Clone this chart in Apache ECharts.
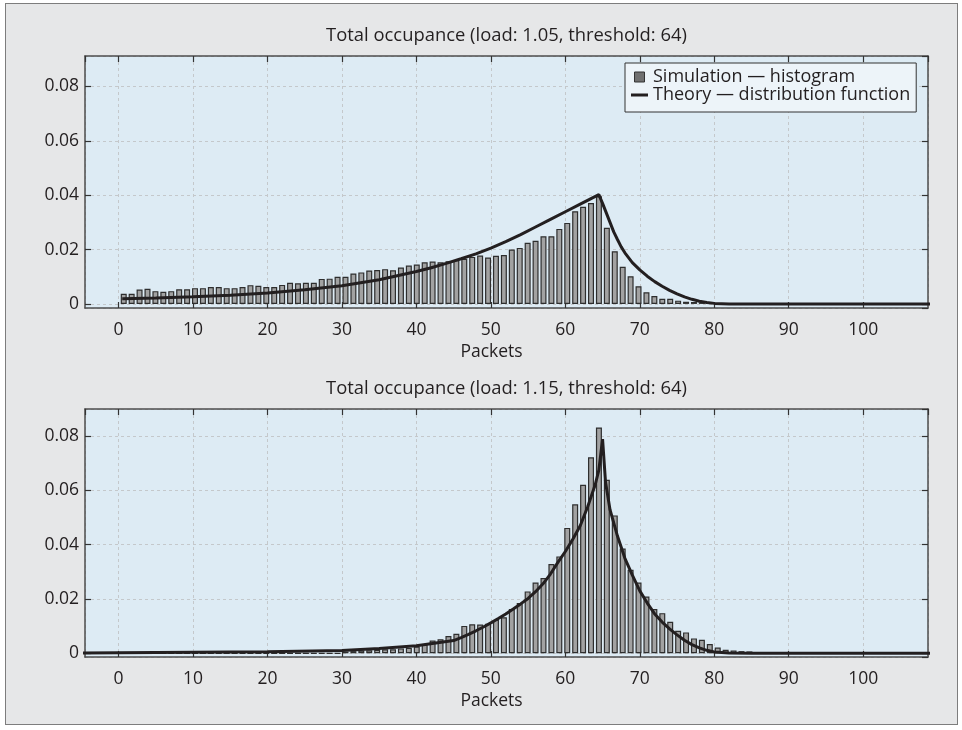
<!DOCTYPE html>
<html>
<head>
<meta charset="utf-8">
<title>Total occupance</title>
<script src="https://cdn.jsdelivr.net/npm/echarts@6/dist/echarts.min.js"></script>
<style>
  html, body { margin: 0; padding: 0; background: #fff; }
  #frame { position: absolute; left: 5px; top: 3px; width: 953px; height: 722px; box-sizing: border-box;
           border: 1.5px solid #7d7d7d; background: #e6e7e8; }
  #main { position: absolute; left: 0; top: 0; width: 962px; height: 730px; }
</style>
</head>
<body>
<div id="frame"></div>
<div id="main"></div>
<script>
// histogram heights, one per bin (bin 0 is the leftmost bar)
var topSim = [
  0.0037, 0.0037, 0.0053, 0.0056, 0.0047, 0.0045, 0.0047, 0.0054, 0.0054, 0.0058,
  0.0058, 0.0062, 0.0062, 0.0058, 0.0058, 0.0062, 0.0069, 0.0067, 0.0062, 0.0062,
  0.0070, 0.0078, 0.0076, 0.0078, 0.0078, 0.0092, 0.0093, 0.0100, 0.0100, 0.0112,
  0.0116, 0.0123, 0.0125, 0.0128, 0.0124, 0.0134, 0.0141, 0.0145, 0.0153, 0.0156,
  0.0153, 0.0157, 0.0161, 0.0166, 0.0173, 0.0178, 0.0171, 0.0177, 0.0180, 0.0200,
  0.0206, 0.0225, 0.0232, 0.0249, 0.0249, 0.0276, 0.0298, 0.0341, 0.0357, 0.0371,
  0.0396, 0.0280, 0.0194, 0.0137, 0.0102, 0.0065, 0.0043, 0.0029, 0.0019, 0.0019,
  0.0012, 0.0008, 0.0007, 0.0005, 0.0003, 0.0002
];
var bottomSim = [
  0, 0, 0, 0, 0, 0, 0, 0, 0, 0,
  0, 0, 0, 0, 0, 0, 0, 0, 0, 0,
  0, 0, 0, 0, 0, 0, 0, 0, 0.0006, 0.0008,
  0.0010, 0.0011, 0.0013, 0.0015, 0.0015, 0.0018, 0.0020, 0.0025, 0.0031, 0.0047,
  0.0052, 0.0064, 0.0072, 0.0101, 0.0107, 0.0106, 0.0109, 0.0123, 0.0133, 0.0163,
  0.0185, 0.0228, 0.0261, 0.0277, 0.0329, 0.0357, 0.0462, 0.0549, 0.0621, 0.0722,
  0.0832, 0.0639, 0.0508, 0.0386, 0.0308, 0.0261, 0.0209, 0.0163, 0.0148, 0.0116,
  0.0083, 0.0077, 0.0055, 0.0050, 0.0034, 0.0021, 0.0013, 0.0010, 0.0008, 0.0007
];

// theory curves (packets, probability)
var topTheoryX = [0.5, 5, 10, 15, 20, 25, 30, 35, 40, 42, 44, 46, 48, 50, 52, 54, 56, 58, 60, 62, 64.5,
  65, 65.5, 66, 66.5, 67, 67.5, 68, 69, 70, 71, 72, 73, 74, 75, 76, 77, 78, 79, 80, 82, 110];
var topTheoryY = [0.0019, 0.0022, 0.0026, 0.0032, 0.0040, 0.0052, 0.0067, 0.0089, 0.0119, 0.0133,
  0.0149, 0.0166, 0.0184, 0.0205, 0.0229, 0.0255, 0.0283, 0.0311, 0.0339, 0.0367, 0.0402,
  0.0370, 0.0335, 0.0300, 0.0265, 0.0237, 0.0210, 0.0188, 0.0152, 0.0125, 0.0102, 0.0082,
  0.0065, 0.0050, 0.0037, 0.0026, 0.0017, 0.0010, 0.0005, 0.0002, 0, 0];

var bottomTheoryX = [-5, 0, 10, 20, 30, 35, 40, 45, 46, 47, 48, 49, 50, 51, 52, 53, 54, 55,
  56, 57, 58, 59, 60, 61, 62, 63, 64, 64.5, 65, 65.4, 66, 67, 68, 69, 70, 71, 72, 73, 74,
  75, 76, 77, 78, 79, 80, 82, 85, 110];
var bottomTheoryY = [0.0001, 0.0002, 0.0004, 0.0006, 0.0010, 0.0018, 0.0028, 0.0047, 0.0058,
  0.0070, 0.0083, 0.0097, 0.0112, 0.0128, 0.0145, 0.0163, 0.0182, 0.0202, 0.0227, 0.0256,
  0.0292, 0.0335, 0.0375, 0.0420, 0.0470, 0.0540, 0.0620, 0.0675, 0.0789, 0.0630, 0.0529,
  0.0432, 0.0350, 0.0288, 0.0230, 0.0185, 0.0145, 0.0115, 0.0090, 0.0068, 0.0048, 0.0032,
  0.0020, 0.0011, 0.0005, 0.0001, 0, 0];

var titles = ['Total occupance (load: 1.05, threshold: 64)', 'Total occupance (load: 1.15, threshold: 64)'];
var xName = 'Packets';
var simName = 'Simulation \u2014 histogram';
var theoryName = 'Theory \u2014 distribution function';

var font = 'Open Sans';
var ink = '#231f20';
var frameLine = { show: true, onZero: false, lineStyle: { color: '#4d4d4d', width: 1.5 } };

var chart = echarts.init(document.getElementById('main'));

var grids = [], xAxes = [], yAxes = [], series = [];

function addPlot(i, top, height, sim, tx, ty, yMin, yMax) {
  grids.push({
    left: 85, top: top, width: 843, height: height, show: true,
    backgroundColor: '#ddebf4', borderWidth: 0
  });
  var tick = { inside: true, length: 6, lineStyle: { color: '#333', width: 1.2 } };
  var grid = { show: true, lineStyle: { color: '#c4c8cb', type: [3, 3], width: 1 } };
  // packets axis, bottom
  xAxes.push({
    gridIndex: i, type: 'value', position: 'bottom', min: -4.5, max: 108.7,
    splitNumber: 11, minInterval: 10, maxInterval: 10,
    name: xName, nameLocation: 'middle', nameGap: 35,
    nameTextStyle: { fontFamily: font, fontSize: 17.5, color: ink, padding: [0, 30, 0, 0] },
    axisLine: frameLine, axisTick: tick,
    axisLabel: { margin: 13, color: ink, fontFamily: font, fontSize: 17.5, showMinLabel: false, showMaxLabel: false },
    splitLine: grid
  });
  // same axis on top, carries the title
  xAxes.push({
    gridIndex: i, type: 'value', position: 'top', min: -4.5, max: 108.7,
    splitNumber: 11, minInterval: 10, maxInterval: 10,
    name: titles[i], nameLocation: 'middle', nameGap: 11,
    nameTextStyle: { fontFamily: font, fontSize: 18.4, color: ink },
    axisLine: frameLine, axisTick: tick,
    axisLabel: { show: false }, splitLine: { show: false }
  });
  // bin index axis for the histogram bars
  xAxes.push({ gridIndex: i, type: 'value', min: -4.89, max: 101.55, show: false });

  yAxes.push({
    gridIndex: i, type: 'value', position: 'left', min: yMin, max: yMax,
    splitNumber: 5, minInterval: 0.02, maxInterval: 0.02,
    axisLine: frameLine, axisTick: tick,
    axisLabel: { margin: 6, color: ink, fontFamily: font, fontSize: 17.5, showMinLabel: false, showMaxLabel: false },
    splitLine: grid
  });
  yAxes.push({
    gridIndex: i, type: 'value', position: 'right', min: yMin, max: yMax,
    splitNumber: 5, minInterval: 0.02, maxInterval: 0.02,
    axisLine: frameLine, axisTick: tick,
    axisLabel: { show: false }, splitLine: { show: false }
  });

  series.push({
    type: 'bar', name: simName, xAxisIndex: i * 3 + 2, yAxisIndex: i * 2,
    barWidth: 6, silent: true,
    itemStyle: { color: '#a2a2a2', borderColor: '#2e2e2e', borderWidth: 1.2 },
    data: sim.map(function (v, k) { return [k, v]; })
  });
  series.push({
    type: 'line', name: theoryName, xAxisIndex: i * 3, yAxisIndex: i * 2,
    symbol: 'none', showSymbol: false, silent: true, z: 3,
    lineStyle: { color: ink, width: 3 },
    itemStyle: { color: ink },
    data: tx.map(function (x, k) { return [x, ty[k]]; })
  });
}

addPlot(0, 56, 252, topSim, topTheoryX, topTheoryY, -0.0015, 0.0912);
addPlot(1, 409, 248, bottomSim, bottomTheoryX, bottomTheoryY, -0.00136, 0.090);

var option = {
  animation: false,
  grid: grids,
  xAxis: xAxes,
  yAxis: yAxes,
  legend: {
    left: 625, top: 63, orient: 'vertical', itemGap: 0, itemWidth: 17, itemHeight: 10,
    padding: [5, 6, 8, 6], backgroundColor: '#edf4f9', borderColor: '#333', borderWidth: 1,
    selectedMode: false,
    textStyle: { fontFamily: font, fontSize: 18, color: ink, lineHeight: 18 },
    data: [
      { name: simName, icon: 'path://M0,0H10V10H0Z',
        itemStyle: { color: '#707070', borderColor: '#333', borderWidth: 1 } },
      { name: theoryName, icon: 'path://M0,0H17V3H0Z',
        itemStyle: { color: ink, borderWidth: 0 } }
    ]
  },
  series: series
};

chart.setOption(option);
</script>
</body>
</html>
